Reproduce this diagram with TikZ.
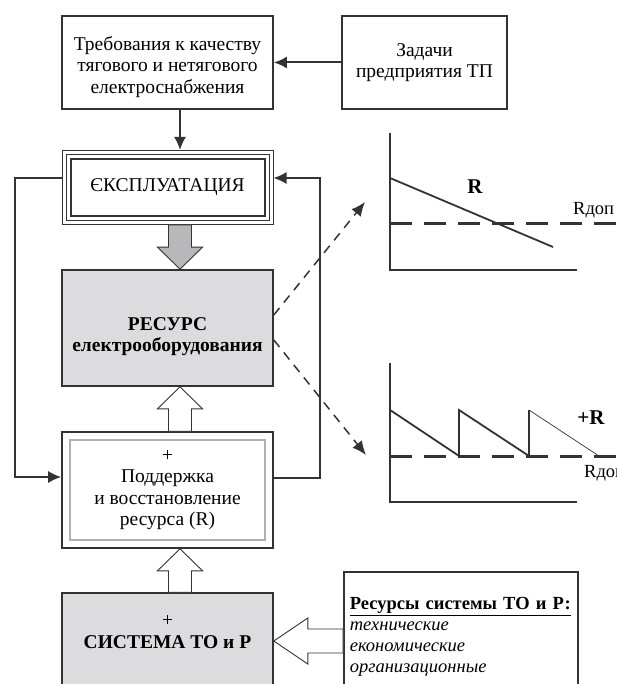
\documentclass[tikz,border=0pt]{standalone}
\usepackage{fontspec}
\setmainfont{Liberation Serif}
\usetikzlibrary{arrows.meta,calc}

\definecolor{linegray}{HTML}{333333}
\definecolor{boxfill}{HTML}{DCDCDE}
\definecolor{arrowfill}{HTML}{B8B8BA}
\definecolor{innergray}{HTML}{B0B0B0}
\newcommand\fsmain{\fontsize{19.5}{21.5}\selectfont}
\newcommand\fssmall{\fontsize{18.5}{21}\selectfont}

\begin{document}
\begin{tikzpicture}[x=1pt, y=-1pt,
    box/.style={draw=linegray, line width=1.6pt, minimum width=211pt, align=center, font=\fsmain},
    greybox/.style={box, fill=boxfill},
    arrow/.style={-{Latex[length=13pt,width=12pt]}, line width=2pt, draw=linegray},
    feed/.style={line width=1.6pt, draw=linegray},
    dasharrow/.style={-{Latex[length=14pt,width=12pt]}, line width=1.5pt, dash pattern=on 9pt off 7pt, draw=linegray},
    hollow/.style={draw=linegray, line width=0.9pt, fill=white},
    greyarrow/.style={draw=linegray, line width=0.9pt, fill=arrowfill},
    axisline/.style={line width=1.6pt, draw=linegray},
    limit/.style={line width=3pt, dash pattern=on 22pt off 12pt, draw=linegray},
    note/.style={font=\fssmall, inner sep=0pt}
]
    \useasboundingbox (0,0) rectangle (616,684);
    \clip (0,0) rectangle (616,684);

    % верхние блоки
    \node[box, minimum height=93pt, text height=66pt] (demands) at (167.5,62.5) {Требования к качеству\\тягового и нетягового\\електроснабжения};
    \node[box, minimum width=165pt, minimum height=93pt] (tasks) at (424.5,62.5) {Задачи\\предприятия ТП};

    % эксплуатация (тройная рамка)
    \node[box, line width=1pt, minimum height=74pt] (usage) at (167.5,187.5) {ЄКСПЛУАТАЦИЯ};
    \draw[linegray, line width=1pt] ([shift={(4.5,4.5)}]usage.north west) rectangle ([shift={(-4.5,-4.5)}]usage.south east);
    \draw[linegray, line width=2pt] ([shift={(9,9)}]usage.north west) rectangle ([shift={(-9,-9)}]usage.south east);

    % ресурс
    \node[greybox, minimum height=116pt, text height=52pt, font=\fsmain\bfseries] (resource) at (167.5,328) {РЕСУРС\\електрооборудования};

    % поддержка ресурса
    \node[box, minimum height=116pt] (support) at (167.5,490) {+\\Поддержка\\и восстановление\\ресурса (R)};
    \draw[innergray, line width=2pt] ([shift={(9,9)}]support.north west) rectangle ([shift={(-9,-9)}]support.south east);

    % система ТО и Р
    \node[greybox, minimum height=96pt, text depth=18pt] (system) at (167.5,641) {+\\\textbf{СИСТЕМА ТО и Р}};
    \node[box, minimum height=130pt, text width=222pt, align=left, anchor=north west, inner xsep=6pt, font=\fssmall] (means) at (343,571)
        {\textbf{\underline{Ресурсы системы ТО и Р:}}\\\textit{технические}\\\textit{економические}\\\textit{организационные}};

    % связи
    \draw[arrow] (tasks.west) -- (demands.east);
    \draw[arrow] ([xshift=12.5pt]demands.south) -- ([xshift=12.5pt]usage.north);
    \draw[feed, -{Latex[length=13pt,width=12pt]}] ([shift={(0,-9.5)}]usage.west) -- ++(-46.5,0) |- ([shift={(0,-13)}]support.west);
    \draw[feed, -{Latex[length=13pt,width=12pt]}] ([shift={(0,-12)}]support.east) -- ++(46,0) |- ([shift={(0,-9.5)}]usage.east);

    % блочные стрелки
    \coordinate (gb) at ([xshift=12.5pt]usage.south);
    \coordinate (gt) at ([xshift=12.5pt]resource.north);
    \draw[greyarrow] (gt) -- ($(gt)+(22.5,-22)$) -- ($(gt)+(11.5,-22)$) -- ($(gb)+(11.5,0)$)
        -- ($(gb)+(-11.5,0)$) -- ($(gt)+(-11.5,-22)$) -- ($(gt)+(-22.5,-22)$) -- cycle;
    \coordinate (h1b) at ([xshift=12.5pt]support.north);
    \coordinate (h1t) at ([xshift=12.5pt]resource.south);
    \draw[hollow] (h1t) -- ($(h1t)+(22.5,22)$) -- ($(h1t)+(11.5,22)$) -- ($(h1b)+(11.5,0)$)
        -- ($(h1b)+(-11.5,0)$) -- ($(h1t)+(-11.5,22)$) -- ($(h1t)+(-22.5,22)$) -- cycle;
    \coordinate (h2b) at ([xshift=12.5pt]system.north);
    \coordinate (h2t) at ([xshift=12.5pt]support.south);
    \draw[hollow] (h2t) -- ($(h2t)+(22.5,22)$) -- ($(h2t)+(11.5,22)$) -- ($(h2b)+(11.5,0)$)
        -- ($(h2b)+(-11.5,0)$) -- ($(h2t)+(-11.5,22)$) -- ($(h2t)+(-22.5,22)$) -- cycle;
    \coordinate (h3b) at (means.west |- system.east);
    \draw[hollow] (system.east) -- ($(system.east)+(34,-23)$) -- ($(system.east)+(34,-12)$) -- ($(h3b)+(0,-12)$)
        -- ($(h3b)+(0,12)$) -- ($(system.east)+(34,12)$) -- ($(system.east)+(34,23)$) -- cycle;

    % пунктирные стрелки к графикам
    \coordinate (upper) at (365,202);
    \coordinate (lower) at (366,455);
    \draw[dasharrow] ([shift={(0,-13)}]resource.east) -- (upper);
    \draw[dasharrow] ([shift={(0,12)}]resource.east) -- (lower);

    % график 1
    \draw[axisline] (390,133) -- (390,270) -- (577,270);
    \draw[limit] (390,224) -- (616,224);
    \draw[linegray, line width=1.8pt] (390,178) -- (553,247);
    \node[font=\fontsize{21}{24}\selectfont\bfseries] (r1) at (475,187) {R};
    \node[note, anchor=west] (rdop1) at (573,210) {Rдоп};

    % график 2
    \draw[axisline] (390,363) -- (390,502) -- (577,502);
    \draw[limit] (390,456) -- (616,456);
    \draw[linegray, line width=1.8pt] (390,410) -- (459,456) -- (459,410) -- (529,456) -- (529,410);
    \draw[linegray, line width=0.7pt] (529,410) -- (599,456);
    \node[font=\fontsize{21}{24}\selectfont\bfseries] (r2) at (591,418) {+R};
    \node[note, anchor=west] (rdop2) at (584,473) {Rдоп};
\end{tikzpicture}
\end{document}
